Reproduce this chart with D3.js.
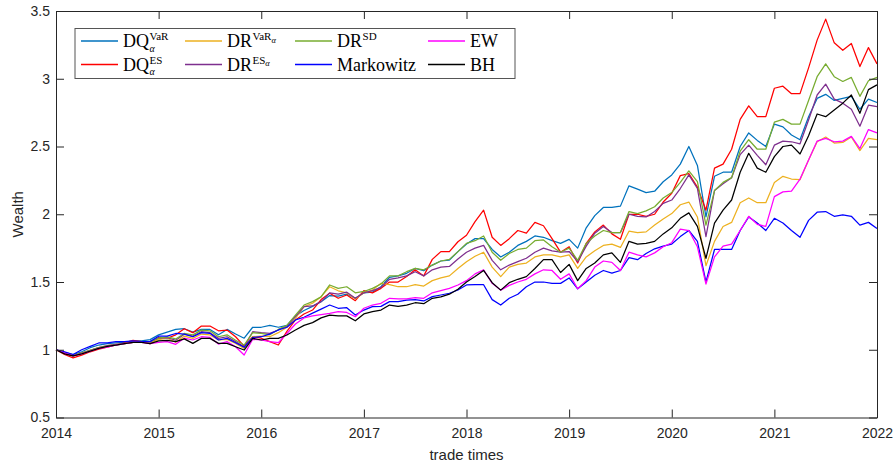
<!DOCTYPE html>
<html><head><meta charset="utf-8">
<script src="https://cdn.jsdelivr.net/npm/d3@7"></script>
<style>body{margin:0;background:#fff}</style>
</head><body>
<svg id="chart" width="893" height="465"></svg>
<script>
const yearTicks = [2014, 2015, 2016, 2017, 2018, 2019, 2020, 2021, 2022];
const wealthTicks = [0.5, 1, 1.5, 2, 2.5, 3, 3.5];
const startYear = 2014;

const dqVaR = [1.00,0.98,0.965,0.985,1.015,1.035,1.045,1.05,1.055,1.065,1.065,1.075,1.11,1.13,1.15,1.155,
1.13,1.15,1.15,1.11,1.15,1.116,1.085,1.166,1.166,1.18,1.166,1.18,1.25,1.29,1.32,1.355,
1.40,1.395,1.41,1.38,1.42,1.425,1.465,1.535,1.545,1.564,1.60,1.583,1.625,1.655,1.662,1.724,
1.78,1.82,1.82,1.74,1.685,1.72,1.77,1.80,1.84,1.83,1.805,1.785,1.815,1.75,1.90,1.99,
2.05,2.05,2.06,2.21,2.185,2.16,2.17,2.24,2.29,2.37,2.50,2.36,1.98,2.28,2.31,2.31,
2.50,2.60,2.545,2.50,2.665,2.645,2.585,2.55,2.72,2.855,2.885,2.84,2.855,2.87,2.775,2.85,2.825];

const dqES = [1.00,0.965,0.94,0.96,0.985,1.005,1.02,1.035,1.05,1.07,1.06,1.045,1.09,1.085,1.11,1.155,
1.126,1.175,1.175,1.14,1.145,1.096,1.027,1.096,1.085,1.06,1.035,1.135,1.22,1.264,1.293,1.37,
1.417,1.38,1.404,1.362,1.436,1.42,1.453,1.50,1.50,1.54,1.59,1.545,1.667,1.724,1.724,1.797,
1.845,1.945,2.03,1.83,1.77,1.82,1.88,1.86,1.94,1.915,1.82,1.72,1.76,1.64,1.785,1.87,
1.92,1.855,1.815,2.0,2.0,1.985,2.0,2.09,2.155,2.285,2.30,2.20,2.03,2.34,2.37,2.48,
2.70,2.80,2.72,2.72,2.93,2.945,2.89,2.89,3.08,3.285,3.44,3.265,3.21,3.26,3.09,3.23,3.11];

const drVaR = [1.00,0.975,0.955,0.975,0.995,1.015,1.03,1.04,1.045,1.055,1.06,1.055,1.075,1.085,1.055,1.10,
1.084,1.116,1.109,1.072,1.077,1.047,1.01,1.096,1.101,1.096,1.126,1.166,1.232,1.318,1.343,1.392,
1.465,1.435,1.42,1.375,1.42,1.44,1.49,1.48,1.465,1.465,1.48,1.47,1.51,1.53,1.545,1.60,
1.65,1.69,1.72,1.61,1.54,1.61,1.63,1.64,1.685,1.70,1.70,1.685,1.70,1.60,1.685,1.73,
1.77,1.78,1.755,1.875,1.865,1.87,1.92,1.965,2.005,2.07,2.09,1.98,1.62,1.80,1.91,1.94,
2.085,2.12,2.085,2.085,2.235,2.28,2.26,2.255,2.40,2.535,2.57,2.525,2.53,2.57,2.47,2.56,2.55];

const drES = [1.00,0.975,0.955,0.975,0.995,1.015,1.03,1.04,1.045,1.055,1.06,1.06,1.085,1.09,1.07,1.115,
1.101,1.133,1.126,1.084,1.096,1.06,1.022,1.133,1.126,1.121,1.146,1.175,1.244,1.318,1.323,1.355,
1.42,1.41,1.425,1.38,1.42,1.436,1.46,1.52,1.53,1.545,1.576,1.545,1.59,1.61,1.615,1.67,
1.72,1.75,1.77,1.66,1.59,1.625,1.65,1.675,1.72,1.75,1.73,1.72,1.725,1.65,1.765,1.86,
1.91,1.865,1.865,2.0,1.985,1.98,2.02,2.08,2.105,2.19,2.29,2.19,1.835,2.175,2.225,2.27,
2.44,2.51,2.435,2.365,2.51,2.54,2.535,2.52,2.695,2.88,2.96,2.85,2.82,2.775,2.65,2.805,2.795];

const drSD = [1.00,0.975,0.955,0.975,0.995,1.015,1.025,1.035,1.045,1.055,1.06,1.06,1.085,1.095,1.08,1.12,
1.11,1.145,1.14,1.096,1.11,1.07,1.035,1.126,1.12,1.11,1.15,1.18,1.256,1.33,1.355,1.39,
1.478,1.453,1.465,1.42,1.43,1.453,1.485,1.545,1.545,1.576,1.60,1.59,1.625,1.655,1.667,1.724,
1.785,1.805,1.84,1.72,1.66,1.71,1.74,1.75,1.805,1.81,1.76,1.72,1.75,1.66,1.785,1.84,
1.88,1.865,1.865,2.02,2.005,2.025,2.055,2.12,2.16,2.235,2.32,2.24,1.92,2.175,2.235,2.27,
2.465,2.55,2.48,2.48,2.68,2.70,2.665,2.665,2.84,3.015,3.11,3.015,2.98,3.01,2.87,2.985,3.01];

const markowitz = [1.00,0.985,0.965,1.0,1.025,1.05,1.05,1.06,1.06,1.065,1.06,1.06,1.10,1.10,1.12,1.115,
1.096,1.126,1.121,1.072,1.084,1.052,1.018,1.091,1.096,1.116,1.146,1.166,1.22,1.24,1.27,1.30,
1.33,1.306,1.31,1.256,1.293,1.318,1.32,1.355,1.355,1.367,1.37,1.36,1.392,1.404,1.417,1.441,
1.478,1.48,1.48,1.37,1.33,1.38,1.41,1.465,1.50,1.50,1.49,1.49,1.53,1.45,1.50,1.55,
1.585,1.565,1.585,1.68,1.665,1.71,1.745,1.765,1.78,1.835,1.88,1.80,1.50,1.74,1.74,1.74,
1.88,1.98,1.935,1.88,1.97,1.935,1.88,1.83,1.955,2.015,2.02,1.985,1.995,1.985,1.92,1.94,1.895];

const ew = [1.00,0.975,0.955,0.97,0.99,1.01,1.02,1.035,1.045,1.055,1.055,1.045,1.055,1.06,1.04,1.085,
1.072,1.096,1.091,1.042,1.06,1.022,0.961,1.077,1.072,1.06,1.052,1.12,1.19,1.235,1.25,1.26,
1.269,1.281,1.275,1.244,1.306,1.33,1.343,1.38,1.375,1.375,1.384,1.38,1.42,1.436,1.453,1.478,
1.51,1.56,1.59,1.49,1.44,1.475,1.50,1.52,1.56,1.59,1.585,1.52,1.56,1.45,1.51,1.61,
1.655,1.645,1.585,1.72,1.70,1.685,1.715,1.76,1.79,1.89,1.88,1.76,1.485,1.685,1.765,1.78,
1.88,1.985,1.925,1.91,2.13,2.165,2.17,2.26,2.40,2.54,2.56,2.535,2.54,2.575,2.485,2.625,2.60];

const bh = [1.00,0.97,0.955,0.97,0.99,1.01,1.025,1.035,1.045,1.055,1.055,1.045,1.065,1.07,1.06,1.08,
1.047,1.084,1.084,1.047,1.047,1.022,0.998,1.084,1.072,1.084,1.084,1.109,1.146,1.18,1.20,1.235,
1.256,1.25,1.25,1.214,1.264,1.281,1.293,1.33,1.32,1.33,1.347,1.34,1.38,1.39,1.41,1.446,
1.50,1.54,1.585,1.495,1.44,1.495,1.52,1.54,1.60,1.665,1.665,1.57,1.63,1.51,1.60,1.64,
1.70,1.715,1.645,1.80,1.78,1.785,1.80,1.855,1.90,1.97,2.01,1.91,1.675,1.935,2.03,2.105,
2.31,2.45,2.34,2.31,2.425,2.50,2.51,2.445,2.58,2.74,2.72,2.77,2.82,2.88,2.745,2.92,2.955];

const seriesNames = ["DQVaR", "DQES", "DRVaR", "DRES", "DRSD", "Markowitz", "EW", "BH"];
const seriesColors = ["#0072BD", "#FF0000", "#EDB120", "#7E2F8E", "#77AC30", "#0000FF", "#FF00FF", "#000000"];
const legendBase = ["DQ", "DQ", "DR", "DR", "DR", "Markowitz", "EW", "BH"];
const legendSup = ["VaR", "ES", "VaR", "ES", "SD", "", "", ""];
const legendSupSub = ["", "", "α", "α", "", "", "", ""];
const legendSub = ["α", "α", "", "", "", "", "", ""];

const seriesValues = [dqVaR, dqES, drVaR, drES, drSD, markowitz, ew, bh];

const svg = d3.select("#chart");
const L = 56, R = 877, T = 11, B = 417.5;
const x = d3.scaleLinear().domain([2014, 2022]).range([L, R]);
const y = d3.scaleLinear().domain([0.5, 3.5]).range([B, T]);
const axisColor = "#262626";
const tickFont = "Liberation Sans, Arial, sans-serif";

// lines
const line = d3.line().x((d, i) => x(startYear + i / 12)).y(d => y(d));
const plot = svg.append("g");
seriesValues.forEach((vals, k) => {
  plot.append("path").datum(vals)
    .attr("d", line).attr("fill", "none")
    .attr("stroke", seriesColors[k]).attr("stroke-width", 1.25)
    .attr("stroke-linejoin", "round");
});

// axes
function styleAxis(g, labels) {
  g.select(".domain").attr("stroke", axisColor).attr("stroke-width", 1);
  g.selectAll(".tick line").attr("stroke", axisColor).attr("stroke-width", 1);
  g.selectAll(".tick text").attr("fill", axisColor).style("font-family", tickFont).style("font-size", "14px");
  if (!labels) g.selectAll(".tick text").remove();
}
svg.append("g").attr("transform", `translate(0,${B})`)
  .call(d3.axisBottom(x).tickValues(yearTicks).tickFormat(d3.format("d")).tickSizeInner(-8).tickSizeOuter(0).tickPadding(11))
  .call(g => styleAxis(g, true));
svg.append("g").attr("transform", `translate(0,${T})`)
  .call(d3.axisTop(x).tickValues(yearTicks).tickSizeInner(-8).tickSizeOuter(0))
  .call(g => styleAxis(g, false));
svg.append("g").attr("transform", `translate(${L},0)`)
  .call(d3.axisLeft(y).tickValues(wealthTicks).tickFormat(d => String(d)).tickSizeInner(-8).tickSizeOuter(0).tickPadding(6))
  .call(g => styleAxis(g, true));
svg.append("g").attr("transform", `translate(${R},0)`)
  .call(d3.axisRight(y).tickValues(wealthTicks).tickSizeInner(-8).tickSizeOuter(0))
  .call(g => styleAxis(g, false));

// axis labels
svg.append("text").attr("x", (L + R) / 2).attr("y", 460)
  .attr("text-anchor", "middle").attr("fill", axisColor)
  .style("font-family", tickFont).style("font-size", "15px").text("trade times");
svg.append("text").attr("transform", `translate(23,${(T + B) / 2}) rotate(-90)`)
  .attr("text-anchor", "middle").attr("fill", axisColor)
  .style("font-family", tickFont).style("font-size", "15px").text("Wealth");

// legend
const serif = "Liberation Serif, Times New Roman, serif";
const leg = svg.append("g");
leg.append("rect").attr("x", 75).attr("y", 28.5).attr("width", 440).attr("height", 50)
  .attr("fill", "#fff").attr("stroke", "#555").attr("stroke-width", 1);
const colX = [81, 185, 295, 428];
const rowY = [41, 64.5];
seriesNames.forEach((n, k) => {
  const c = Math.floor(k / 2), r = k % 2;
  const lx = colX[c], ly = rowY[r];
  leg.append("line").attr("x1", lx).attr("x2", lx + 37).attr("y1", ly).attr("y2", ly)
    .attr("stroke", seriesColors[k]).attr("stroke-width", 1.3);
  const tx = lx + 42, base = ly + 6;
  const t = leg.append("text").attr("x", tx).attr("y", base)
    .style("font-family", serif).style("font-size", "18px").attr("fill", "#000").text(legendBase[k]);
  const w = t.node().getComputedTextLength();
  if (legendSup[k]) {
    const s = leg.append("text").attr("x", tx + w + 0.5).attr("y", base - 7)
      .style("font-family", serif).style("font-size", "11px").attr("fill", "#000").text(legendSup[k]);
    if (legendSupSub[k]) {
      const sw = s.node().getComputedTextLength();
      leg.append("text").attr("x", tx + w + 0.5 + sw).attr("y", base - 4.5)
        .style("font-family", serif).style("font-size", "8.5px").style("font-style", "italic")
        .attr("fill", "#000").text(legendSupSub[k]);
    }
  }
  if (legendSub[k]) {
    leg.append("text").attr("x", tx + w + 0.5).attr("y", base + 4.5)
      .style("font-family", serif).style("font-size", "10px").style("font-style", "italic")
      .attr("fill", "#000").text(legendSub[k]);
  }
});
</script>
</body></html>
